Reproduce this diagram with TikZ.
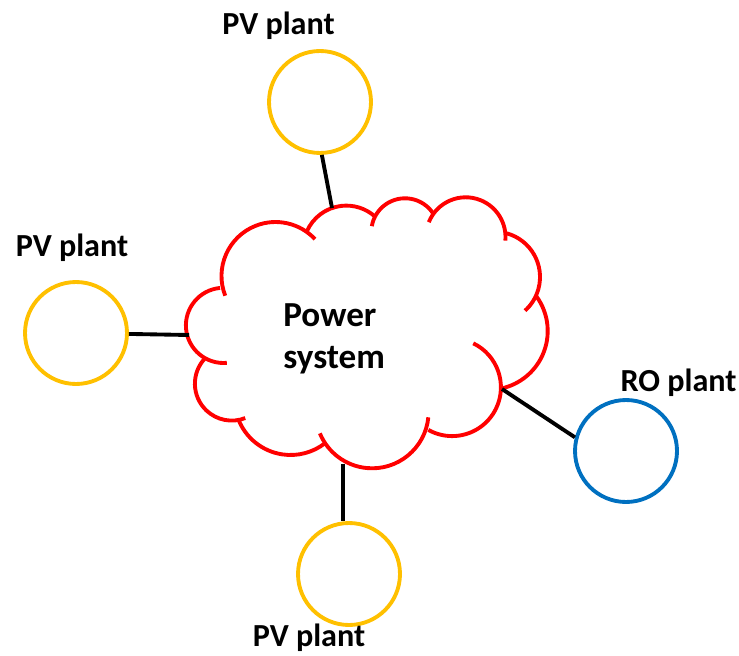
\documentclass[tikz,border=0pt]{standalone}
\usepackage{fontspec}
\setmainfont{Carlito}
\definecolor{pvgold}{HTML}{FFC000}
\definecolor{roblue}{HTML}{0070C0}
\definecolor{gridred}{HTML}{FF0000}

\begin{document}
\begin{tikzpicture}[x=0.02cm, y=-0.02cm,
      plant/.style={circle, draw, line width=2.2pt, minimum size=2.04cm,
        inner sep=0pt},
      lbl/.style={font=\fontsize{18.3}{20}\selectfont\bfseries, anchor=base},
      puff/.style={draw=gridred, line width=2.2pt},
      link/.style={draw, line width=2.2pt, black}
    ]
    \useasboundingbox (0,0) rectangle (739,655);
    % === Cloud: power system ===
    \foreach \cx/\cy/\r/\a/\b in {275.5/276/54/158.6/317,
        346.3/248.7/43.1/203.2/311.9, 405/232/33.7/190/327.5,
        465.7/237.1/39.8/202/365, 494.7/277/45.3/-74.6/48,
        488.9/331/58.8/-35.7/77.4, 452.1/387.3/48.8/-64.3/119.1,
        372.1/411.8/56.5/5.6/157.6, 290.6/398.9/56.1/158.7/52.2,
        231.8/383.7/36.9/223.5/68.6, 223.5/325.4/37.6/264.7/85}
      \draw[puff] ([shift={(\a:\r)}]\cx,\cy)
        arc[start angle=\a, end angle=\b, radius=\r];
    \node[font=\fontsize{20}{23.5}\selectfont\bfseries, align=left,
      inner sep=0pt, anchor=base west] (ps) at (283,368) {Power\\system};
    % connection points on the cloud
    \coordinate (ps-n) at (332,208);
    \coordinate (ps-w) at (189,335);
    \coordinate (ps-se) at (502,389);
    \coordinate (ps-s) at (343,464);
    % === Plants ===
    \node[plant, draw=pvgold] (pv-n) at (320,102) {};
    \node[plant, draw=pvgold] (pv-w) at (76,333) {};
    \node[plant, draw=roblue] (ro) at (626,451) {};
    \node[plant, draw=pvgold] (pv-s) at (349,574) {};
    % labels
    \node[lbl] (pv-n-lbl) at (278.5,35) {PV plant};
    \node[lbl] (pv-w-lbl) at (72,256) {PV plant};
    \node[lbl] (ro-lbl) at (678.5,391.7) {RO plant};
    \node[lbl] (pv-s-lbl) at (309,646) {PV plant};
    % === Links ===
    \draw[link] (pv-n.-88) -- (ps-n);
    \draw[link] (pv-w) -- (ps-w);
    \draw[link] (ps-se) -- (ro.165);
    \draw[link] (ps-s) -- (ps-s |- pv-s.north);
  \end{tikzpicture}
\end{document}
